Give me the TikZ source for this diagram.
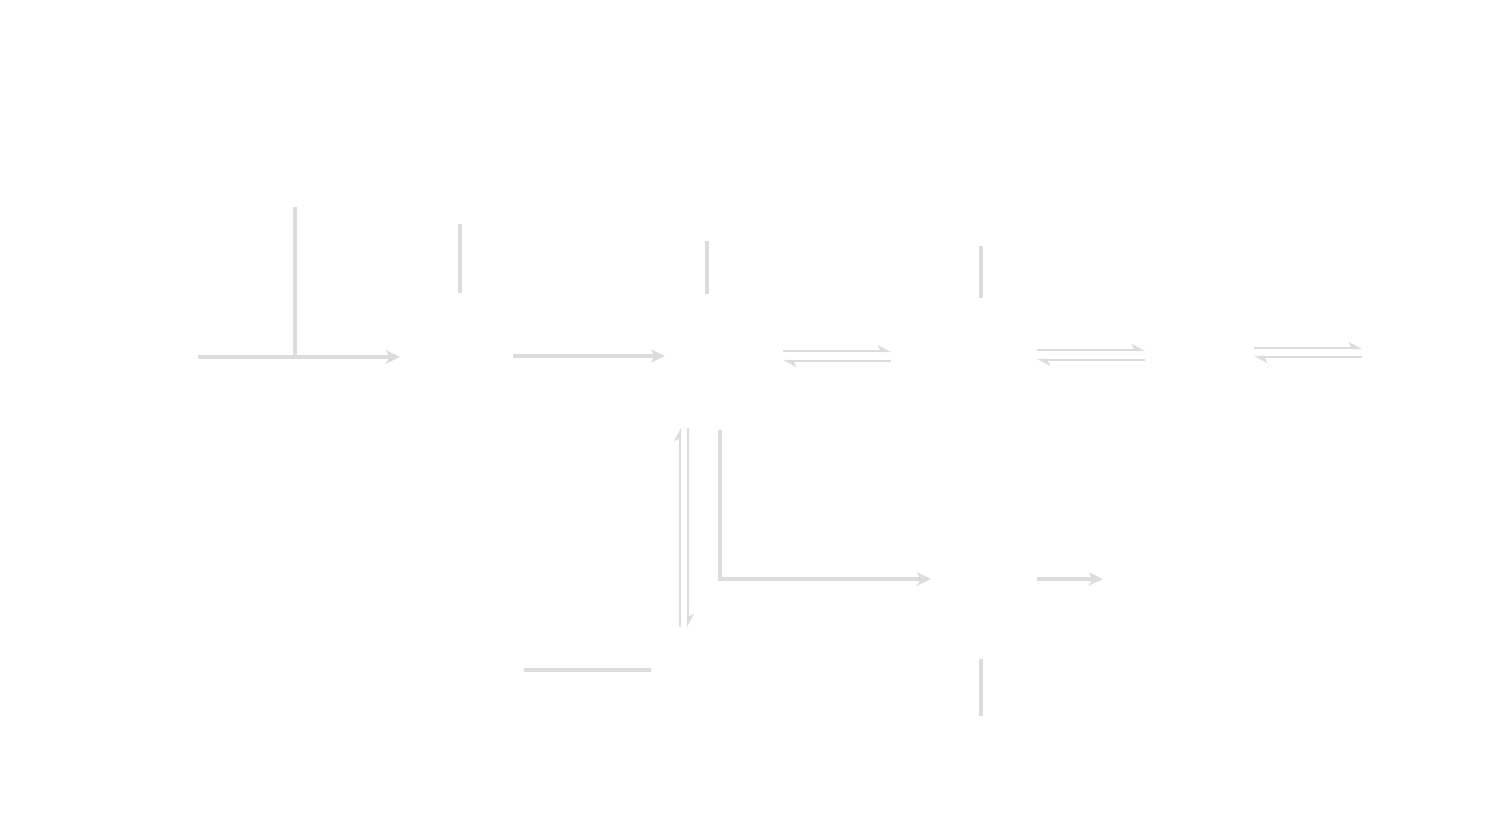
\documentclass[tikz,border=0pt]{standalone}
\usepackage{xcolor}
\usepackage{tikz}
\usetikzlibrary{arrows.meta}
\definecolor{faint}{HTML}{DCDCDC}

\begin{document}
\begin{tikzpicture}[
    rxn/.style={draw=faint, line width=1pt, -{Stealth[length=4pt, width=3.8pt, inset=1pt]}},
    eqm/.style={draw=faint, line width=0.8pt, -{Stealth[harpoon, length=3.2pt, width=3.4pt, inset=0.8pt]}},
    bond/.style={draw=faint, line width=1pt}]
    \useasboundingbox (0,0) rectangle (15,8.25);
    % upper row
    \coordinate (s1) at (1.98,4.68);
    \coordinate (p1) at (4.00,4.68);
    \coordinate (t1) at (2.95,6.18);
    \coordinate (j1) at (2.95,4.68);
    \draw[rxn] (s1) -- (p1);
    \draw[bond] (t1) -- (j1);
    \coordinate (t2a) at (4.60,6.01);
    \coordinate (t2b) at (4.60,5.32);
    \draw[bond] (t2a) -- (t2b);
    \coordinate (s2) at (5.13,4.69);
    \coordinate (p2) at (6.65,4.69);
    \draw[rxn] (s2) -- (p2);
    \coordinate (t3a) at (7.07,5.84);
    \coordinate (t3b) at (7.07,5.31);
    \draw[bond] (t3a) -- (t3b);
    \coordinate (t4a) at (9.81,5.79);
    \coordinate (t4b) at (9.81,5.27);
    \draw[bond] (t4a) -- (t4b);
    % equilibria
    \coordinate (e1l) at (7.83,4.69);
    \coordinate (e1r) at (8.91,4.69);
    \draw[eqm] ([yshift=0.05cm]e1l) -- ([yshift=0.05cm]e1r);
    \draw[eqm] ([yshift=-0.05cm]e1r) -- ([yshift=-0.05cm]e1l);
    \coordinate (e2l) at (10.37,4.70);
    \coordinate (e2r) at (11.45,4.70);
    \draw[eqm] ([yshift=0.05cm]e2l) -- ([yshift=0.05cm]e2r);
    \draw[eqm] ([yshift=-0.05cm]e2r) -- ([yshift=-0.05cm]e2l);
    \coordinate (e3l) at (12.54,4.725);
    \coordinate (e3r) at (13.62,4.725);
    \draw[eqm] ([yshift=0.045cm]e3l) -- ([yshift=0.045cm]e3r);
    \draw[eqm] ([yshift=-0.045cm]e3r) -- ([yshift=-0.045cm]e3l);
    % lower part
    \coordinate (d1) at (6.84,3.97);
    \coordinate (d2) at (6.84,1.98);
    \draw[eqm] ([xshift=-0.04cm]d2) -- ([xshift=-0.04cm]d1);
    \draw[eqm] ([xshift=0.04cm]d1) -- ([xshift=0.04cm]d2);
    \coordinate (s3) at (7.20,3.95);
    \coordinate (p3) at (9.31,2.46);
    \draw[rxn] (s3) |- (p3);
    \coordinate (s4) at (10.37,2.46);
    \coordinate (p4) at (11.03,2.46);
    \draw[rxn] (s4) -- (p4);
    \coordinate (h1) at (5.24,1.55);
    \coordinate (h2) at (6.51,1.55);
    \draw[bond] (h1) -- (h2);
    \coordinate (t5a) at (9.81,1.66);
    \coordinate (t5b) at (9.81,1.09);
    \draw[bond] (t5a) -- (t5b);
  \end{tikzpicture}
\end{document}
